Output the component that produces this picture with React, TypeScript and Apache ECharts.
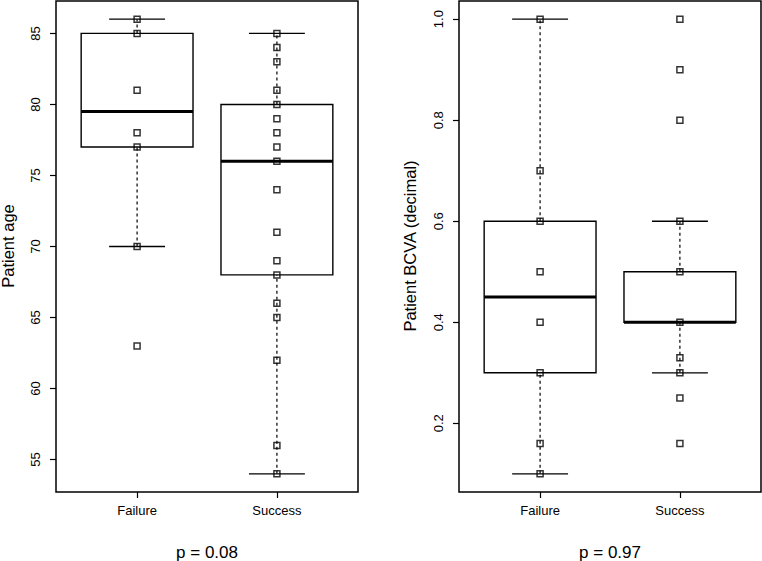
import React, { useEffect, useRef } from "react";
import * as echarts from "echarts";

const categories = ["Failure", "Success"];
// box statistics: [lower whisker, Q1, median, Q3, upper whisker]
const ageFailureBox = [70, 77, 79.5, 85, 86];
const ageSuccessBox = [54, 68, 76, 80, 85];
const bcvaFailureBox = [0.1, 0.3, 0.45, 0.6, 1.0];
const bcvaSuccessBox = [0.3, 0.4, 0.4, 0.5, 0.6];
// individual observations
const ageFailurePoints = [86, 85, 81, 78, 77, 70, 63];
const ageSuccessPoints = [85, 84, 83, 81, 80, 79, 78, 77, 76, 74, 71, 69, 68, 66, 65, 62, 56, 54];
const bcvaFailurePoints = [1.0, 0.7, 0.6, 0.5, 0.4, 0.3, 0.16, 0.1];
const bcvaSuccessPoints = [1.0, 0.9, 0.8, 0.6, 0.5, 0.4, 0.33, 0.3, 0.25, 0.16];
const ageTicks = [55, 60, 65, 70, 75, 80, 85];
const bcvaTicks = [0.2, 0.4, 0.6, 0.8, 1.0];
const ageRange = [52.72, 87.28];
const bcvaRange = [0.064, 1.036];
const xRange = [0.42, 2.58];
const pValues = ["p = 0.08", "p = 0.97"];
const yTitles = ["Patient age", "Patient BCVA (decimal)"];

const FONT = "Liberation Sans, Arial, Helvetica, sans-serif";

function boxRender(params: any, api: any) {
  const x = api.value(0);
  const mn = api.value(1), q1 = api.value(2), md = api.value(3), q3 = api.value(4), mx = api.value(5);
  const c = (a: number, b: number) => api.coord([a, b]);
  const line = (p1: number[], p2: number[], style: any) => ({
    type: "line",
    shape: { x1: p1[0], y1: p1[1], x2: p2[0], y2: p2[1] },
    style: Object.assign({ stroke: "#000", lineWidth: 1.3, fill: null }, style),
  });
  const tl = c(x - 0.4, q3);
  const br = c(x + 0.4, q1);
  return {
    type: "group",
    children: [
      line(c(x, mn), c(x, q1), { lineDash: [3, 3], lineWidth: 1.2 }),
      line(c(x, q3), c(x, mx), { lineDash: [3, 3], lineWidth: 1.2 }),
      line(c(x - 0.2, mn), c(x + 0.2, mn), {}),
      line(c(x - 0.2, mx), c(x + 0.2, mx), {}),
      {
        type: "rect",
        shape: { x: tl[0], y: tl[1], width: br[0] - tl[0], height: br[1] - tl[1] },
        style: { stroke: "#000", lineWidth: 1.4, fill: "none" },
      },
      line(c(x - 0.4, md), c(x + 0.4, md), { lineWidth: 3 }),
    ],
  };
}

function makeX(gridIndex: number) {
  return {
    gridIndex,
    type: "value",
    min: xRange[0],
    max: xRange[1],
    axisLine: { show: false },
    splitLine: { show: false },
    axisTick: { show: true, length: 6, customValues: [1, 2], lineStyle: { color: "#000", width: 1.2 } },
    axisLabel: {
      show: true,
      customValues: [1, 2],
      margin: 12,
      fontSize: 13,
      fontFamily: FONT,
      color: "#000",
      formatter: (v: number) => categories[Math.round(v) - 1],
    },
  };
}

function makeY(gridIndex: number, range: number[], ticks: number[], fmt: (v: number) => string) {
  return {
    gridIndex,
    type: "value",
    min: range[0],
    max: range[1],
    axisLine: { show: false },
    splitLine: { show: false },
    axisTick: { show: true, length: 6, customValues: ticks, lineStyle: { color: "#000", width: 1.2 } },
    axisLabel: {
      show: true,
      customValues: ticks,
      rotate: 90,
      margin: 14,
      fontSize: 13,
      fontFamily: FONT,
      color: "#000",
      formatter: fmt,
    },
  };
}

function pts(x: number, values: number[]) {
  return values.map((v) => [x, v]);
}

export default function App() {
  const ref = useRef<HTMLDivElement>(null);
  useEffect(() => {
    if (!ref.current) return;
    const chart = echarts.init(ref.current, null, { renderer: "svg" });
    const scatterStyle = {
      type: "scatter",
      symbol: "rect",
      symbolSize: 6,
      itemStyle: { color: "rgba(0,0,0,0)", borderColor: "#000", borderWidth: 1.5 },
      z: 5,
    };
    chart.setOption({
      animation: false,
      backgroundColor: "#fff",
      grid: [
        { left: 56, top: 1, width: 302, height: 491, show: true, borderColor: "#000", borderWidth: 1.5, backgroundColor: "transparent" },
        { left: 459, top: 1, width: 302, height: 491, show: true, borderColor: "#000", borderWidth: 1.5, backgroundColor: "transparent" },
      ],
      xAxis: [makeX(0), makeX(1)],
      yAxis: [
        makeY(0, ageRange, ageTicks, (v: number) => String(Math.round(v))),
        makeY(1, bcvaRange, bcvaTicks, (v: number) => v.toFixed(1)),
      ],
      series: [
        {
          type: "custom",
          xAxisIndex: 0,
          yAxisIndex: 0,
          renderItem: boxRender,
          data: [[1, ...ageFailureBox], [2, ...ageSuccessBox]],
          z: 2,
        },
        {
          type: "custom",
          xAxisIndex: 1,
          yAxisIndex: 1,
          renderItem: boxRender,
          data: [[1, ...bcvaFailureBox], [2, ...bcvaSuccessBox]],
          z: 2,
        },
        { ...scatterStyle, xAxisIndex: 0, yAxisIndex: 0, data: pts(1, ageFailurePoints) },
        { ...scatterStyle, xAxisIndex: 0, yAxisIndex: 0, data: pts(2, ageSuccessPoints) },
        { ...scatterStyle, xAxisIndex: 1, yAxisIndex: 1, data: pts(1, bcvaFailurePoints) },
        { ...scatterStyle, xAxisIndex: 1, yAxisIndex: 1, data: pts(2, bcvaSuccessPoints) },
      ],
      graphic: [
        {
          type: "text",
          x: 8,
          y: 246,
          rotation: Math.PI / 2,
          style: { text: yTitles[0], font: `16.5px ${FONT}`, fill: "#000", textAlign: "center", textVerticalAlign: "middle" },
        },
        {
          type: "text",
          x: 410,
          y: 246,
          rotation: Math.PI / 2,
          style: { text: yTitles[1], font: `16.5px ${FONT}`, fill: "#000", textAlign: "center", textVerticalAlign: "middle" },
        },
        {
          type: "text",
          x: 207,
          y: 552,
          style: { text: pValues[0], font: `17px ${FONT}`, fill: "#000", textAlign: "center", textVerticalAlign: "middle" },
        },
        {
          type: "text",
          x: 610,
          y: 552,
          style: { text: pValues[1], font: `17px ${FONT}`, fill: "#000", textAlign: "center", textVerticalAlign: "middle" },
        },
      ],
    });
    return () => chart.dispose();
  }, []);
  return <div ref={ref} style={{ position: "fixed", left: 0, top: 0, width: 762, height: 561 }} />;
}
